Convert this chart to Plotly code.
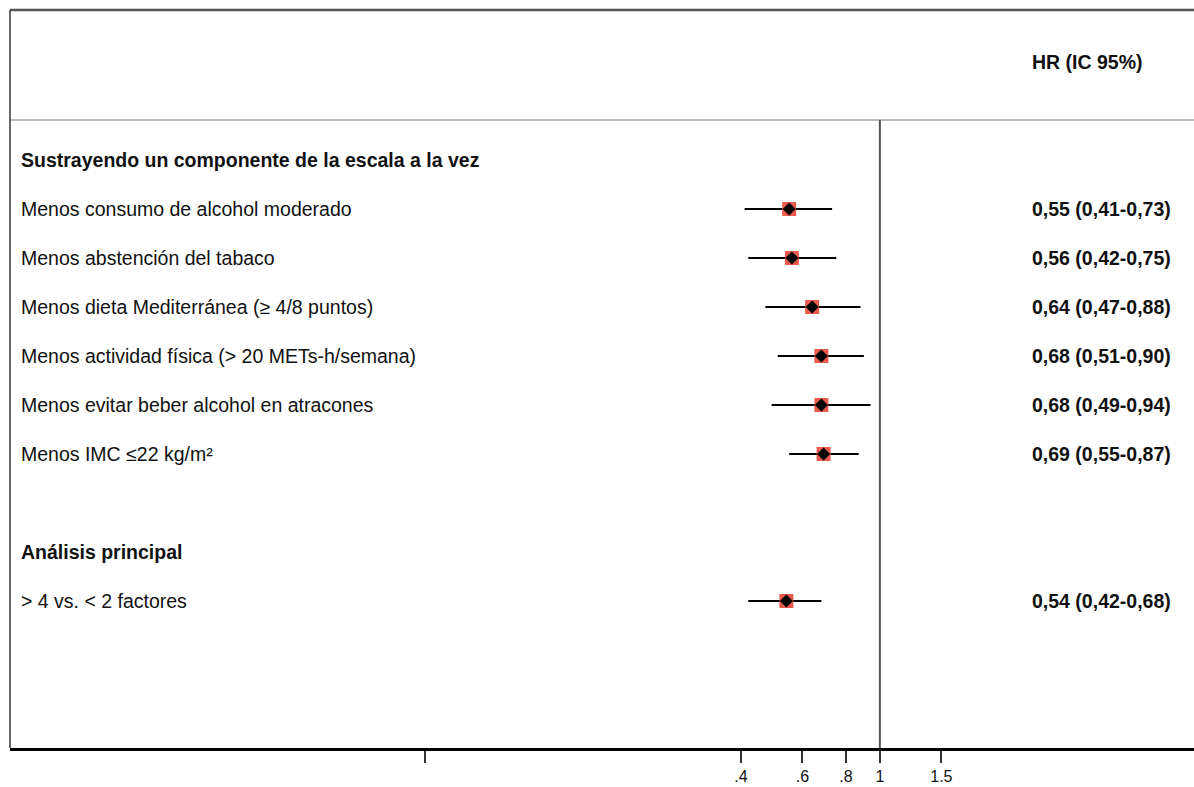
import plotly.graph_objects as go

# ---- data ----
row_labels = [
    "Menos consumo de alcohol moderado",
    "Menos abstención del tabaco",
    "Menos dieta Mediterránea (≥ 4/8 puntos)",
    "Menos actividad física (> 20 METs-h/semana)",
    "Menos evitar beber alcohol en atracones",
    "Menos IMC ≤22 kg/m²",
    "> 4 vs. < 2 factores",
]
hr = [0.55, 0.56, 0.64, 0.68, 0.68, 0.69, 0.54]
ci_low = [0.41, 0.42, 0.47, 0.51, 0.49, 0.55, 0.42]
ci_high = [0.73, 0.75, 0.88, 0.90, 0.94, 0.87, 0.68]
row_pos = [1, 2, 3, 4, 5, 6, 9]

group_titles = ["Sustrayendo un componente de la escala a la vez", "Análisis principal"]
group_pos = [0, 8]

tick_vals = [0.05, 0.4, 0.6, 0.8, 1, 1.5]
tick_text = ["", ".4", ".6", ".8", "1", "1.5"]

header_text = "HR (IC 95%)"

FONT = "Liberation Sans, Arial, Helvetica, sans-serif"
FS = 19.5

fig = go.Figure()

# CI lines
for lo, hi, y in zip(ci_low, ci_high, row_pos):
    fig.add_trace(go.Scatter(x=[lo, hi], y=[y, y], mode="lines",
                             line=dict(color="black", width=2),
                             showlegend=False, hoverinfo="skip"))

# red squares
fig.add_trace(go.Scatter(x=hr, y=row_pos, mode="markers",
                         marker=dict(symbol="square", size=14, color="rgba(232,72,58,0.9)",
                                     line=dict(width=0)),
                         showlegend=False, hoverinfo="skip"))
# black diamonds
fig.add_trace(go.Scatter(x=hr, y=row_pos, mode="markers",
                         marker=dict(symbol="diamond", size=10, color="black"),
                         showlegend=False))

annotations = []
for lab, y in zip(row_labels, row_pos):
    annotations.append(dict(x=9 / 1184, xref="paper", y=y, yref="y", text=lab,
                            showarrow=False, xanchor="left", yanchor="middle",
                            font=dict(family=FONT, size=FS, color="#111")))
for t, y in zip(group_titles, group_pos):
    annotations.append(dict(x=9 / 1184, xref="paper", y=y, yref="y", text="<b>" + t + "</b>",
                            showarrow=False, xanchor="left", yanchor="middle",
                            font=dict(family=FONT, size=FS, color="#111")))
for h, lo, hi, y in zip(hr, ci_low, ci_high, row_pos):
    txt = f"{h:.2f} ({lo:.2f}-{hi:.2f})".replace(".", ",")
    annotations.append(dict(x=1020 / 1184, xref="paper", y=y, yref="y", text="<b>" + txt + "</b>",
                            showarrow=False, xanchor="left", yanchor="middle",
                            font=dict(family=FONT, size=FS, color="#111")))
annotations.append(dict(x=1020 / 1184, xref="paper", y=-2, yref="y", text="<b>" + header_text + "</b>",
                        showarrow=False, xanchor="left", yanchor="middle",
                        font=dict(family=FONT, size=FS, color="#111")))

shapes = [
    # top border
    dict(type="line", xref="paper", yref="paper", x0=0, x1=1, y0=1, y1=1,
         line=dict(color="#555", width=2.5)),
    # header separator
    dict(type="line", xref="paper", yref="y", x0=0, x1=1, y0=-0.816, y1=-0.816,
         line=dict(color="#bbb", width=2)),
    # left border
    dict(type="line", xref="paper", yref="paper", x0=0, x1=0, y0=0, y1=1,
         line=dict(color="#333", width=1.5)),
    # reference line at 1
    dict(type="line", xref="x", yref="y", x0=1, x1=1, y0=-0.816, y1=12.0,
         line=dict(color="#555", width=2)),
]

fig.update_layout(
    width=1194, height=787,
    margin=dict(l=10, r=0, t=10, b=39),
    paper_bgcolor="white", plot_bgcolor="white",
    annotations=annotations, shapes=shapes,
    showlegend=False,
    xaxis=dict(type="log", range=[-2.4905, 0.8994], tickvals=tick_vals, ticktext=tick_text,
               ticks="outside", ticklen=12, tickwidth=1.5, tickcolor="#333",
               showgrid=False, zeroline=False, showline=True, linecolor="black", linewidth=3,
               tickfont=dict(family=FONT, size=16, color="#111"), fixedrange=True),
    yaxis=dict(range=[12.0, -3.061], showticklabels=False, showgrid=False, zeroline=False,
               showline=False, ticks="", fixedrange=True),
)

fig.write_html("out.html", config={"displayModeBar": False},
               post_script="document.body.style.margin='0';document.body.style.overflow='hidden';")
